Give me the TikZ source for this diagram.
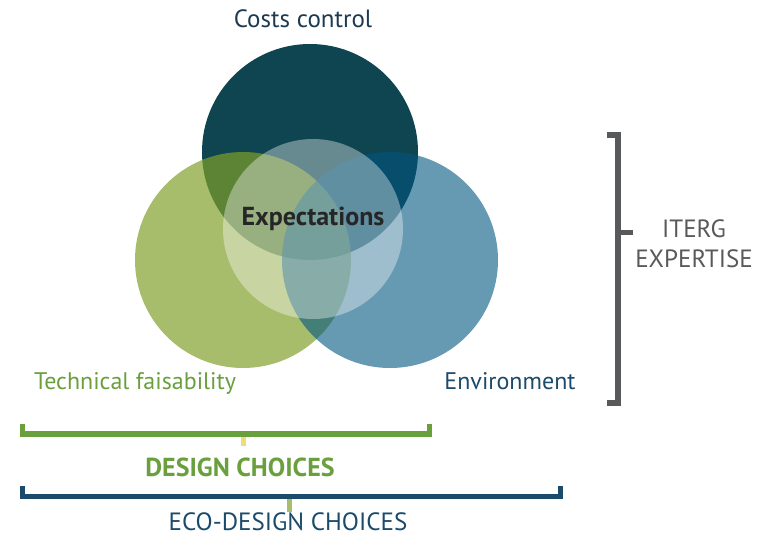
\documentclass[tikz,border=0pt]{standalone}
\usepackage{fontspec}
\setmainfont{PT Sans}
\definecolor{costsdark}{HTML}{0F4550}
\definecolor{techgreen}{HTML}{819F2A}
\definecolor{envblue}{HTML}{00557F}
\definecolor{labelgreen}{HTML}{6A9F3E}
\definecolor{labelblue}{HTML}{1B4A6B}
\definecolor{labelnavy}{HTML}{1E3A50}
\definecolor{expgrey}{HTML}{58595B}
\definecolor{tickyellow}{HTML}{F0DC78}
\definecolor{ticklight}{HTML}{A8BD6C}
\begin{document}
\begin{tikzpicture}[x=1pt,y=-1pt,
  label/.style={anchor=base,inner sep=0pt,font=\fontsize{25}{30}\selectfont},
  boldlabel/.style={label,font=\bfseries\fontsize{26}{30}\selectfont},
  bracket/.style={line width=5.5pt,line join=miter}]
\useasboundingbox (0,0) rectangle (772,535);
% circles
\fill[costsdark] (310,152) circle (108);
\fill[techgreen,opacity=0.69] (243,260) circle (108);
\fill[envblue,opacity=0.6] (390,260) circle (108);
\fill[white,opacity=0.37] (313,229) circle (90);
\node[boldlabel,text=black!85] (expect) at (313,225) {Expectations};
% circle labels
\node[label,text=labelnavy] (costs) at (303,28) {Costs control};
\node[label,font=\fontsize{24}{30}\selectfont,text=labelgreen] (tech) at (135,389) {Technical faisability};
\node[label,font=\fontsize{24}{30}\selectfont,text=labelblue] (env) at (510,389) {Environment};
% right bracket
\draw[bracket,expgrey] (607,135) -- (618,135) -- (618,403) -- (607,403);
\draw[bracket,expgrey] (618,232.5) -- (633,232.5);
\node[label,text=expgrey] (iterg) at (694,237) {ITERG};
\node[label,text=expgrey] (expertise) at (694,267) {EXPERTISE};
% bottom brackets
\draw[bracket,labelgreen] (22.5,424) -- (22.5,434) -- (429.5,434) -- (429.5,424);
\draw[line width=5pt,tickyellow] (243,437) -- (243,446);
\node[boldlabel,text=labelgreen] (design) at (240,476) {DESIGN CHOICES};
\draw[bracket,labelblue] (22.5,486) -- (22.5,496.5) -- (560.5,496.5) -- (560.5,486);
\draw[line width=5pt,ticklight] (289,499) -- (289,512);
\node[label,text=labelblue] (ecodesign) at (288,530) {ECO-DESIGN CHOICES};
\end{tikzpicture}
\end{document}
